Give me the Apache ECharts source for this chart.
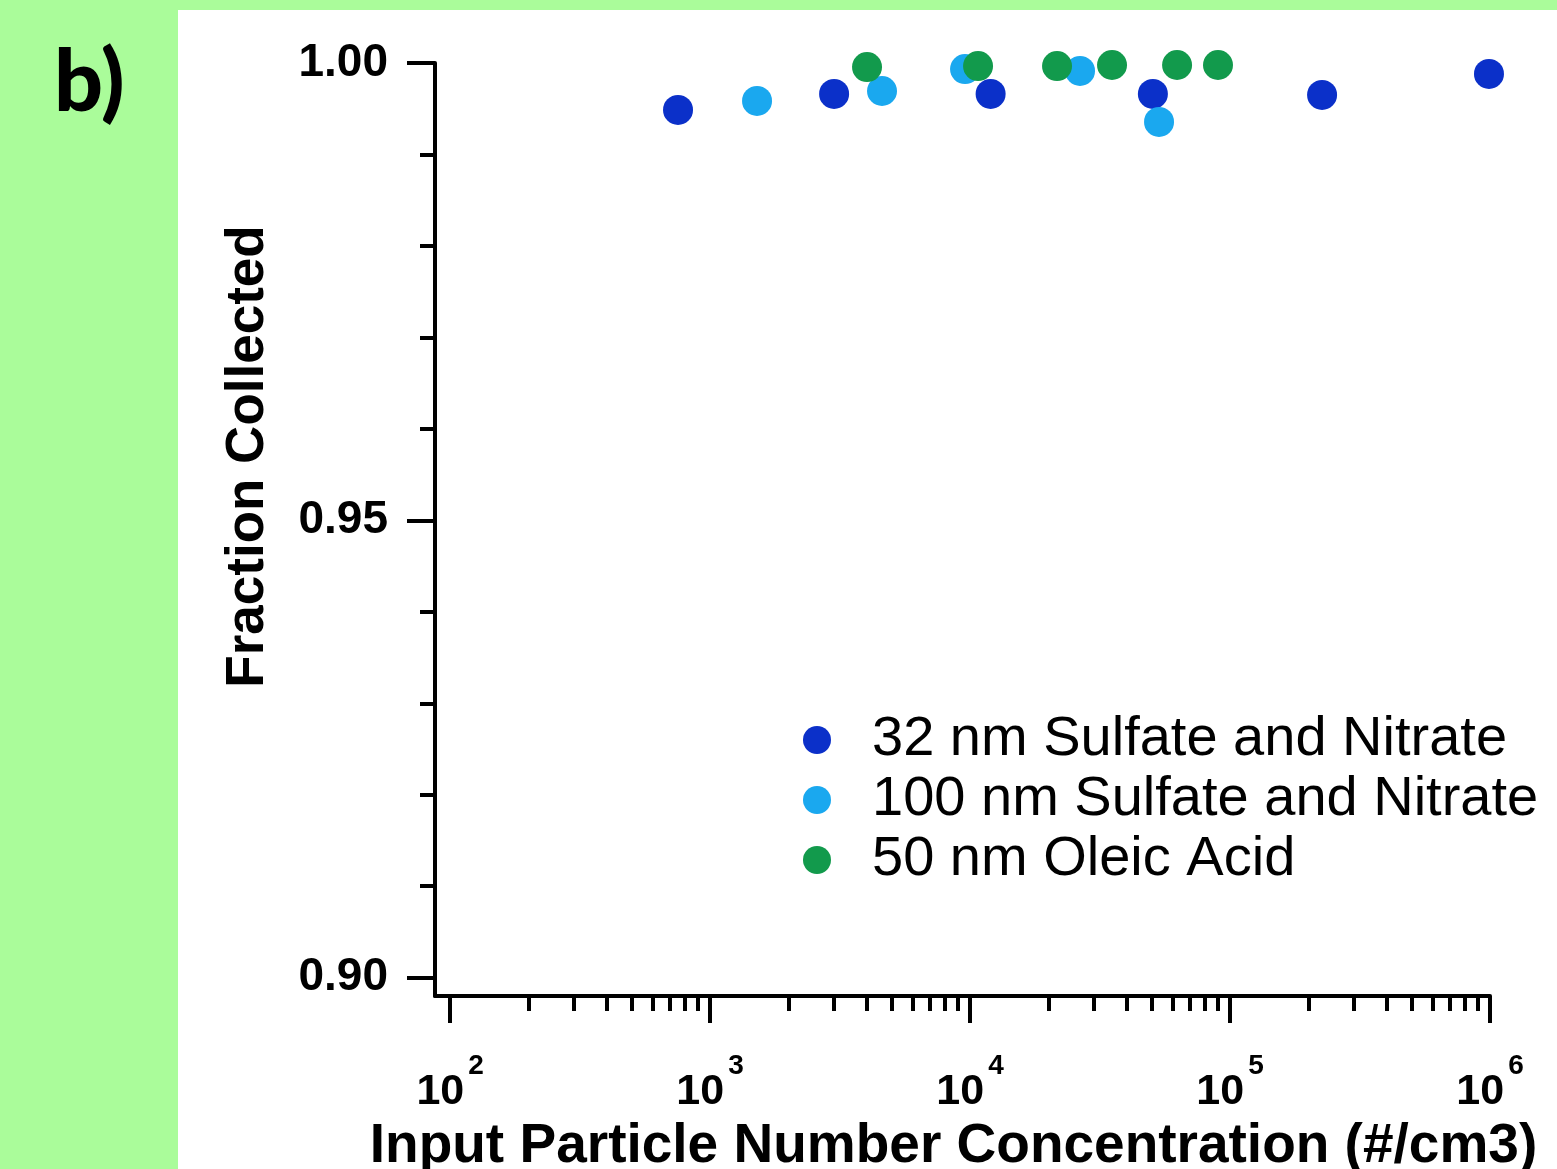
<!DOCTYPE html>
<html>
<head>
<meta charset="utf-8">
<script src="https://cdn.jsdelivr.net/npm/echarts@6/dist/echarts.min.js"></script>
<style>
  html, body { margin: 0; padding: 0; background: #aafc9a; }
  #chart { width: 1557px; height: 1169px; }
</style>
</head>
<body>
<div id="chart"></div>
<script>
// 32 nm Sulfate and Nitrate
var conc32 = [753, 3000, 12000, 50500, 226000, 991000];
var frac32 = [0.99487, 0.99662, 0.99662, 0.99662, 0.99651, 0.99880];
// 100 nm Sulfate and Nitrate
var conc100 = [1516, 4586, 9568, 26490, 53330];
var frac100 = [0.99585, 0.99694, 0.99934, 0.99913, 0.99356];
// 50 nm Oleic Acid
var conc50 = [4016, 10735, 21610, 35170, 62570, 89900];
var frac50 = [0.99956, 0.99967, 0.99967, 0.99978, 0.99978, 0.99978];

var seriesNames = ['32 nm Sulfate and Nitrate', '100 nm Sulfate and Nitrate', '50 nm Oleic Acid'];
var seriesColors = ['#0b30c9', '#1aa8ef', '#129a4c'];

var xMajor = [1e2, 1e3, 1e4, 1e5, 1e6];
var xMinor = [];
[1e2, 1e3, 1e4, 1e5].forEach(function (d) {
    for (var k = 2; k <= 9; k++) xMinor.push(d * k);
});
var yMajor = [0.90, 0.95, 1.00];
var yMinor = [0.91, 0.92, 0.93, 0.94, 0.96, 0.97, 0.98, 0.99];

function pairs(xs, ys) {
    return xs.map(function (x, i) { return [x, ys[i]]; });
}

var font = 'Liberation Sans, Arial, sans-serif';
var chart = echarts.init(document.getElementById('chart'));

var option = {
    backgroundColor: '#aafc9a',
    animation: false,
    graphic: [{
        type: 'rect',
        z: -100,
        shape: { x: 178, y: 10, width: 1379, height: 1159 },
        style: { fill: '#ffffff' }
    }, {
        type: 'text',
        left: 54,
        top: 40,
        style: {
            text: 'b)',
            fontFamily: 'Lato, sans-serif',
            fontWeight: 900,
            fontSize: 86,
            fill: '#000'
        }
    }],
    grid: {
        left: 435,
        top: 63,
        right: 67,
        bottom: 173,
        outerBoundsMode: 'none'
    },
    legend: {
        orient: 'vertical',
        left: 798,
        top: 707,
        itemWidth: 100,
        itemHeight: 28,
        itemGap: 4,
        data: seriesNames,
        textStyle: {
            fontFamily: font,
            fontSize: 56,
            lineHeight: 56,
            color: '#000'
        }
    },
    xAxis: [{
        type: 'log',
        logBase: 10,
        min: 87.5,
        max: 1e6,
        position: 'bottom',
        name: 'Input Particle Number Concentration (#/cm3)',
        nameLocation: 'middle',
        nameGap: 120,
        nameTextStyle: {
            fontFamily: font,
            fontWeight: 'bold',
            fontSize: 55,
            padding: [0, 18, 0, 0],
            color: '#000'
        },
        axisLine: { lineStyle: { color: '#000', width: 4 } },
        axisTick: { customValues: xMajor, length: 27, lineStyle: { color: '#000', width: 4 } },
        splitLine: { show: false },
        axisLabel: {
            customValues: xMajor,
            margin: 56,
            formatter: function (v) {
                return '{b|10}{s|' + Math.round(Math.log10(v)) + '}';
            },
            rich: {
                b: { fontFamily: font, fontWeight: 'bold', fontSize: 43, lineHeight: 62, verticalAlign: 'bottom', color: '#000' },
                s: { fontFamily: font, fontWeight: 'bold', fontSize: 28, lineHeight: 30, verticalAlign: 'top', padding: [0, 0, 0, 4], color: '#000' }
            }
        }
    }, {
        type: 'log',
        logBase: 10,
        min: 87.5,
        max: 1e6,
        position: 'bottom',
        offset: 0,
        axisLine: { show: false },
        axisTick: { customValues: xMinor, length: 15, lineStyle: { color: '#000', width: 4 } },
        axisLabel: { show: false },
        splitLine: { show: false }
    }],
    yAxis: [{
        type: 'value',
        min: 0.898,
        max: 1.0,
        position: 'left',
        name: 'Fraction Collected',
        nameLocation: 'middle',
        nameGap: 160,
        nameTextStyle: {
            fontFamily: font,
            fontWeight: 'bold',
            fontSize: 53,
            padding: [0, 0, 0, 146],
            color: '#000'
        },
        axisLine: { show: true, lineStyle: { color: '#000', width: 4 } },
        axisTick: { show: true, customValues: yMajor, length: 28, lineStyle: { color: '#000', width: 4 } },
        splitLine: { show: false },
        axisLabel: {
            customValues: yMajor,
            margin: 47,
            formatter: function (v) { return v.toFixed(2); },
            fontFamily: font,
            fontWeight: 'bold',
            fontSize: 46,
            color: '#000'
        }
    }, {
        type: 'value',
        min: 0.898,
        max: 1.0,
        position: 'left',
        offset: 0,
        axisLine: { show: false },
        axisTick: { show: true, customValues: yMinor, length: 15, lineStyle: { color: '#000', width: 4 } },
        axisLabel: { show: false },
        splitLine: { show: false }
    }],
    series: [{
        name: seriesNames[0],
        type: 'scatter',
        symbol: 'circle',
        symbolSize: 30,
        itemStyle: { color: seriesColors[0], opacity: 1 },
        data: pairs(conc32, frac32)
    }, {
        name: seriesNames[1],
        type: 'scatter',
        symbol: 'circle',
        symbolSize: 30,
        itemStyle: { color: seriesColors[1], opacity: 1 },
        data: pairs(conc100, frac100)
    }, {
        name: seriesNames[2],
        type: 'scatter',
        symbol: 'circle',
        symbolSize: 30,
        itemStyle: { color: seriesColors[2], opacity: 1 },
        data: pairs(conc50, frac50)
    }]
};

chart.setOption(option);
</script>
</body>
</html>
